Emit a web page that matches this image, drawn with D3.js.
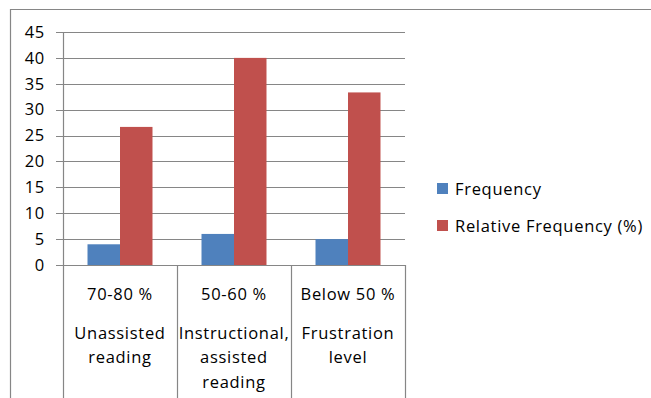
<!DOCTYPE html>
<html><head><meta charset="utf-8">
<script src="https://cdn.jsdelivr.net/npm/d3@7/dist/d3.min.js"></script>
<style>body{margin:0;background:#fff}svg{display:block}text{font-family:"Open Sans",sans-serif;fill:#000;letter-spacing:0.7px}</style>
</head><body>
<svg id="c" width="651" height="398"></svg>
<script>
const categories = ["70-80 %", "50-60 %", "Below 50 %"];
const subLabels = [["Unassisted", "reading"], ["Instructional,", "assisted", "reading"], ["Frustration", "level"]];
const seriesNames = ["Frequency", "Relative Frequency (%)"];
const frequency = [4, 6, 5];
const relativeFrequency = [26.67, 40, 33.33];
const yTicks = [0, 5, 10, 15, 20, 25, 30, 35, 40, 45];
const colors = ["#4F81BD", "#C0504D"];

const svg = d3.select("#c");
const grid = "#868686";
const fs = 16.5;

// outer border
svg.append("path").attr("d", "M10.5,398 V9.5 H651").attr("fill", "none").attr("stroke", grid).attr("stroke-width", 1.2);

const y = d3.scaleLinear().domain([0, 45]).range([265, 32]);
const x = d3.scaleBand().domain(categories).range([63, 405]).padding(0);
const x1 = d3.scaleBand().domain(seriesNames).range([0, x.bandwidth()]).paddingInner(0).paddingOuter(0.754);

// gridlines
svg.append("g").selectAll("line").data(yTicks).join("line")
  .attr("x1", 56).attr("x2", 405)
  .attr("y1", d => Math.round(y(d)) + 0.5).attr("y2", d => Math.round(y(d)) + 0.5)
  .attr("stroke", grid).attr("stroke-width", 1.2);

// y labels
svg.append("g").selectAll("text").data(yTicks).join("text")
  .attr("x", 45).attr("y", d => y(d) + 5.8).attr("text-anchor", "end")
  .style("font-size", fs + "px").text(d => d);

// bars
const data = categories.map((c, i) => ({c, vals: [frequency[i], relativeFrequency[i]]}));
const g = svg.append("g");
data.forEach(d => {
  d.vals.forEach((v, j) => {
    g.append("rect")
      .attr("x", x(d.c) + x1(seriesNames[j]))
      .attr("y", y(v))
      .attr("width", x1.bandwidth())
      .attr("height", y(0) - y(v))
      .attr("fill", colors[j]);
  });
});

// y axis line
svg.append("line").attr("x1", 63.5).attr("x2", 63.5).attr("y1", 32).attr("y2", 398).attr("stroke", grid).attr("stroke-width", 1.2);
// category dividers
const divs = categories.map(c => x(c)).concat([x(categories[2]) + x.bandwidth()]);
svg.append("g").selectAll("line").data(divs.slice(1)).join("line")
  .attr("x1", d => Math.round(d) + 0.5).attr("x2", d => Math.round(d) + 0.5)
  .attr("y1", 265).attr("y2", 398).attr("stroke", grid).attr("stroke-width", 1.2);

// category labels
categories.forEach((c, i) => {
  const cx = x(c) + x.bandwidth() / 2;
  svg.append("text").attr("x", cx).attr("y", 300).attr("text-anchor", "middle").style("font-size", fs + "px").text(c);
  subLabels[i].forEach((t, k) => {
    svg.append("text").attr("x", cx).attr("y", 338.5 + k * 24.5).attr("text-anchor", "middle").style("font-size", fs + "px").text(t);
  });
});

// legend
const lg = svg.append("g");
seriesNames.forEach((s, i) => {
  lg.append("rect").attr("x", 437).attr("y", 183 + i * 37).attr("width", 11).attr("height", 11).attr("fill", colors[i]);
  lg.append("text").attr("x", 455).attr("y", 195 + i * 37).style("font-size", fs + "px").text(s);
});
</script>
</body></html>
